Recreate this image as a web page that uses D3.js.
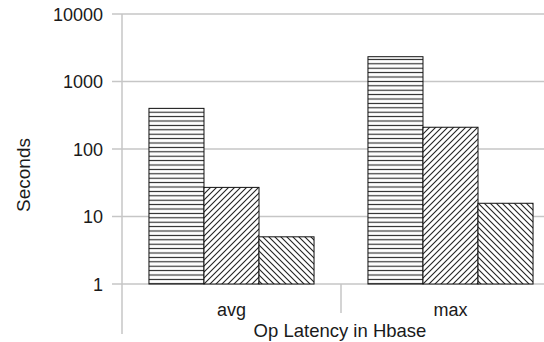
<!DOCTYPE html>
<html>
<head>
  <meta charset="utf-8">
  <title>Op Latency in Hbase</title>
  <style>
    body { margin: 0; background: #fff; }
    svg { display: block; font-family: "Liberation Sans", Arial, sans-serif; }
    .grid line { stroke: #c6c6c6; stroke-width: 1.5px; }
    .axis path, .axis line { stroke: #c6c6c6; stroke-width: 1.5px; }
    .axis text { font-size: 18px; fill: #1a1a1a; }
    .bar { stroke: #111; stroke-width: 1px; }
  </style>
</head>
<body>
  <svg width="544" height="342"></svg>

  <script src="https://d3js.org/d3.v7.min.js"></script>
  <script>
    // values
    var categories = ['avg', 'max'];
    var series = ['s1', 's2', 's3'];
    var avgValues = [400, 27, 5];
    var maxValues = [2330, 210, 15.7];
    var yTicks = [1, 10, 100, 1000, 10000];

    var rows = categories.map(function(c, i) {
      var vals = i === 0 ? avgValues : maxValues;
      return { cat: c, values: series.map(function(s, j) { return { key: s, value: vals[j] }; }) };
    });

    var svg = d3.select('svg');

    // hatch patterns
    var defs = svg.append('defs');
    var hz = defs.append('pattern').attr('id', 'p-s1')
      .attr('patternUnits', 'userSpaceOnUse').attr('width', 8).attr('height', 4.4);
    hz.append('rect').attr('width', 8).attr('height', 4.4).attr('fill', '#fff');
    hz.append('line').attr('x1', 0).attr('x2', 8).attr('y1', 2.2).attr('y2', 2.2)
      .attr('stroke', '#222').attr('stroke-width', 1.1);

    var fw = defs.append('pattern').attr('id', 'p-s2')
      .attr('patternUnits', 'userSpaceOnUse').attr('width', 6).attr('height', 6);
    fw.append('rect').attr('width', 6).attr('height', 6).attr('fill', '#fff');
    fw.append('path').attr('d', 'M-1,1 l2,-2 M0,6 l6,-6 M5,7 l2,-2')
      .attr('stroke', '#222').attr('stroke-width', 1.1);

    var bw = defs.append('pattern').attr('id', 'p-s3')
      .attr('patternUnits', 'userSpaceOnUse').attr('width', 6).attr('height', 6);
    bw.append('rect').attr('width', 6).attr('height', 6).attr('fill', '#fff');
    bw.append('path').attr('d', 'M-1,5 l2,2 M0,0 l6,6 M5,-1 l2,2')
      .attr('stroke', '#222').attr('stroke-width', 1.1);

    var y = d3.scaleLog().domain([1, 10000]).range([284, 14]);
    var x0 = d3.scaleBand().domain(categories).range([122, 560]).padding(0);
    var x1 = d3.scaleBand().domain(series).range([0, x0.bandwidth()])
      .paddingInner(0).paddingOuter(0.49);

    // gridlines
    svg.append('g').attr('class', 'grid')
      .selectAll('line').data(yTicks).enter().append('line')
      .attr('x1', 112).attr('x2', 544)
      .attr('y1', function(d) { return y(d); })
      .attr('y2', function(d) { return y(d); });

    // bars
    var groups = svg.append('g').selectAll('g').data(rows).enter().append('g')
      .attr('transform', function(d) { return 'translate(' + x0(d.cat) + ',0)'; });
    groups.selectAll('rect').data(function(d) { return d.values; }).enter().append('rect')
      .attr('class', 'bar')
      .attr('x', function(d) { return x1(d.key); })
      .attr('width', x1.bandwidth())
      .attr('y', function(d) { return y(d.value); })
      .attr('height', function(d) { return y(1) - y(d.value); })
      .attr('fill', function(d) { return 'url(#p-' + d.key + ')'; });

    // y axis
    var yAxis = svg.append('g').attr('class', 'axis')
      .attr('transform', 'translate(122,0)')
      .call(d3.axisLeft(y).tickValues(yTicks).tickFormat(d3.format('d'))
        .tickSize(10).tickPadding(9).tickSizeOuter(0));
    yAxis.select('.domain').remove();
    yAxis.selectAll('.tick line').remove();
    yAxis.selectAll('.tick text').attr('dy', '0.36em');
    yAxis.append('line').attr('x1', 0).attr('x2', 0).attr('y1', y(10000)).attr('y2', 334)
      .attr('stroke', '#c6c6c6').attr('stroke-width', 1.5);

    // category axis
    var xAxis = svg.append('g').attr('class', 'axis')
      .attr('transform', 'translate(0,284)');
    xAxis.selectAll('line.sep').data(categories.slice(1)).enter().append('line')
      .attr('x1', function(d) { return x0(d); }).attr('x2', function(d) { return x0(d); })
      .attr('y1', 0).attr('y2', 29);
    xAxis.selectAll('text').data(categories).enter().append('text')
      .attr('x', function(d) { return x0(d) + x1('s2') + x1.bandwidth() / 2; })
      .attr('y', 32)
      .attr('text-anchor', 'middle')
      .text(function(d) { return d; });

    svg.append('text')
      .attr('x', 340).attr('y', 337)
      .attr('text-anchor', 'middle')
      .style('font-size', '18.5px').style('fill', '#1a1a1a')
      .text('Op Latency in Hbase');

    svg.append('text')
      .attr('transform', 'translate(29.5,175) rotate(-90)')
      .attr('text-anchor', 'middle')
      .style('font-size', '19px').style('fill', '#1a1a1a')
      .text('Seconds');
  </script>
</body>
</html>
